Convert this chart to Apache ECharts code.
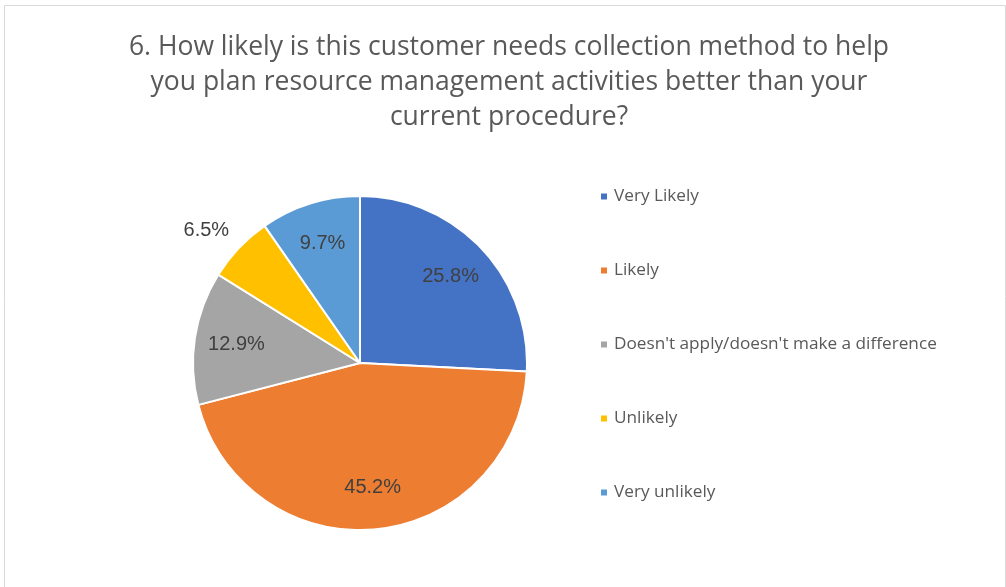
<!DOCTYPE html>
<html>
<head>
<meta charset="utf-8">
<script src="https://cdn.jsdelivr.net/npm/echarts@6/dist/echarts.min.js"></script>
<style>
html,body{margin:0;padding:0;background:#fff;}
#chart{width:1006px;height:587px;}
</style>
</head>
<body>
<div id="chart"></div>
<script>
const titleText = "6. How likely is this customer needs collection method to help\nyou plan resource management activities better than your\ncurrent procedure?";
const categories = ["Very Likely", "Likely", "Doesn't apply/doesn't make a difference", "Unlikely", "Very unlikely"];
const counts = [8, 14, 4, 2, 3];
const colors = ["#4472C4", "#ED7D31", "#A5A5A5", "#FFC000", "#5B9BD5"];
const outsideLabels = ["Unlikely"];

const total = counts.reduce((a, b) => a + b, 0);
const chart = echarts.init(document.getElementById('chart'));

const mainData = categories.map((name, i) => ({ name, value: counts[i], itemStyle: { color: colors[i] } }));
const labelData = categories.map((name, i) => {
  const d = { name: name, value: counts[i] };
  if (outsideLabels.includes(name)) {
    d.label = { position: 'outside' };
  }
  return d;
});

chart.setOption({
  animation: false,
  backgroundColor: '#fff',
  graphic: [{
    type: 'rect', left: 2, top: 3,
    shape: { width: 1001, height: 582 },
    style: { fill: 'none', stroke: '#d9d9d9', lineWidth: 1 },
    silent: true
  }],
  title: {
    text: titleText,
    left: 504, textAlign: 'center', top: 25,
    textStyle: { fontFamily: 'Open Sans', fontSize: 26.5, fontWeight: 'normal', color: '#595959', lineHeight: 35 }
  },
  legend: {
    orient: 'vertical',
    left: 594, top: 183,
    itemWidth: 8, itemHeight: 8, itemGap: 57,
    icon: 'rect',
    data: categories,
    textStyle: { fontFamily: 'Open Sans', fontSize: 17.2, color: '#595959', lineHeight: 16, padding: [0, 0, 0, 1] }
  },
  series: [
    {
      type: 'pie',
      center: [360, 363],
      radius: [0, 167],
      startAngle: 90,
      clockwise: true,
      data: mainData,
      label: { show: false },
      labelLine: { show: false },
      itemStyle: { borderColor: '#fff', borderWidth: 2 },
      emphasis: { disabled: true }
    },
    {
      type: 'pie',
      center: [360, 363],
      radius: [77, 167],
      startAngle: 90,
      clockwise: true,
      silent: true,
      data: labelData,
      itemStyle: { color: 'rgba(0,0,0,0)', borderWidth: 0 },
      label: {
        show: true, position: 'inside',
        formatter: p => (p.value / total * 100).toFixed(1) + '%',
        fontFamily: 'Liberation Sans', fontSize: 20, color: '#404040'
      },
      labelLine: { show: false, length: 26, length2: -14 },
      emphasis: { disabled: true },
      tooltip: { show: false }
    }
  ]
});
</script>
</body>
</html>
